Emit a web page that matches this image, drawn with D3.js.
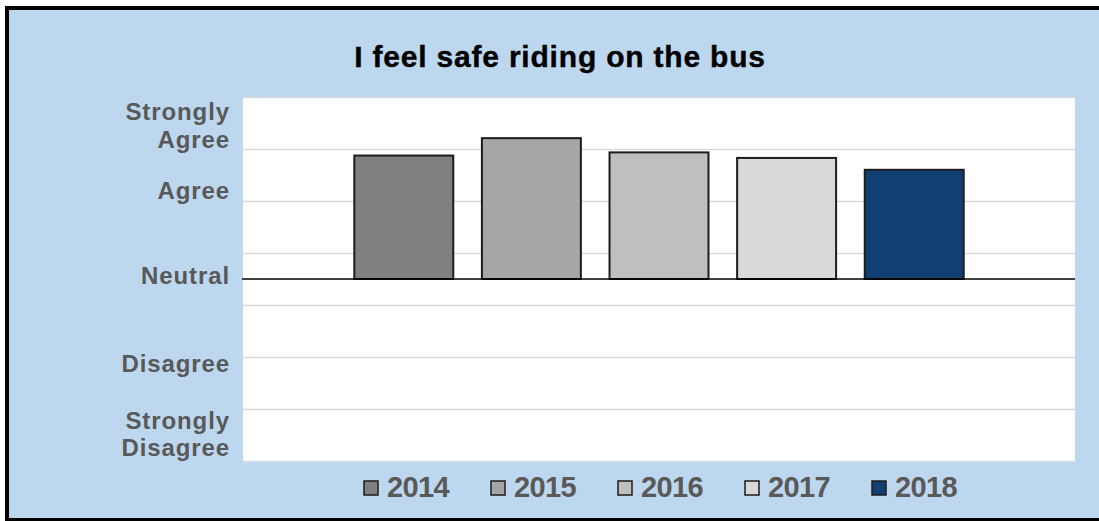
<!DOCTYPE html>
<html>
<head>
<meta charset="utf-8">
<script src="https://cdn.jsdelivr.net/npm/d3@7"></script>
<style>
  html, body { margin: 0; padding: 0; background: #ffffff; overflow: hidden; }
  svg { display: block; }
  text { font-family: "Liberation Sans", Arial, sans-serif; font-weight: bold; }
</style>
</head>
<body>
<svg id="chart" width="1099" height="521"></svg>
<script>
// Survey item: mean response per year on a Likert scale (Neutral = 0, Strongly Agree = +2)
const chartTitle = "I feel safe riding on the bus";
const years = ["2014", "2015", "2016", "2017", "2018"];
const meanScores = [1.56, 1.78, 1.60, 1.53, 1.38];
const yearColors = ["#808080", "#a6a6a6", "#bfbfbf", "#d9d9d9", "#123f72"];

// Response-scale labels along the left side (each entry is a list of lines)
const scaleLabels = [["Strongly", "Agree"], ["Agree"], ["Neutral"], ["Disagree"], ["Strongly", "Disagree"]];
const scaleLabelAnchors = [1.94, 1.12, 0.04, -1.07, -1.96];

const W = 1099, H = 521;
const plot = { left: 243, right: 1075, top: 97, bottom: 461 };
const yMin = -2.3, yMax = 2.3, gridCount = 8;

const svg = d3.select("#chart");

// Frame: pale blue panel; black border on top, left and bottom only
svg.append("rect")
  .attr("x", 7).attr("y", 8)
  .attr("width", W - 7).attr("height", 512)
  .attr("fill", "#bdd7ee");
const frame = svg.append("g").attr("stroke", "#000").attr("stroke-width", 4).attr("fill", "none");
frame.append("path").attr("d", `M${W},8 H7 V520 H${W}`);

// Title
svg.append("text")
  .attr("x", 560).attr("y", 67)
  .attr("text-anchor", "middle")
  .attr("font-size", 30)
  .attr("letter-spacing", 0.8)
  .attr("fill", "#000")
  .attr("stroke", "#000").attr("stroke-width", 0.4)
  .text(chartTitle);

// Scales
const y = d3.scaleLinear().domain([yMin, yMax]).range([plot.bottom, plot.top]);
const x0 = d3.scaleBand().domain(["all"]).range([plot.left, plot.right]).paddingOuter(0.152);
const x1 = d3.scaleBand().domain(years).range([0, x0.bandwidth()])
  .paddingInner(0.2245).paddingOuter(0.11225);

// Plot area
svg.append("rect")
  .attr("x", plot.left).attr("y", plot.top)
  .attr("width", plot.right - plot.left).attr("height", plot.bottom - plot.top)
  .attr("fill", "#ffffff");

// Horizontal gridlines
const gridValues = d3.range(gridCount).map(i => yMin + i * (yMax - yMin) / (gridCount - 1));
const yGrid = d3.axisLeft(y)
  .tickValues(gridValues)
  .tickSize(-(plot.right - plot.left))
  .tickFormat("");
svg.append("g")
  .attr("transform", `translate(${plot.left},0)`)
  .call(yGrid)
  .call(g => g.select(".domain").remove())
  .call(g => g.selectAll(".tick line").attr("stroke", "#d9d9d9").attr("stroke-width", 1.4));

// Bars
const barGroup = svg.append("g").attr("transform", `translate(${x0("all")},0)`);
barGroup.selectAll("rect")
  .data(years.map((yr, i) => ({ year: yr, value: meanScores[i], color: yearColors[i] })))
  .join("rect")
  .attr("x", d => x1(d.year))
  .attr("width", x1.bandwidth())
  .attr("y", d => y(Math.max(0, d.value)))
  .attr("height", d => Math.abs(y(d.value) - y(0)))
  .attr("fill", d => d.color)
  .attr("stroke", "#1c1c1c")
  .attr("stroke-width", 2);

// Neutral baseline
svg.append("line")
  .attr("x1", plot.left - 1).attr("x2", plot.right)
  .attr("y1", y(0)).attr("y2", y(0))
  .attr("stroke", "#000").attr("stroke-width", 1.5);

// Scale labels
const lineGap = 27.6;
const labelG = svg.append("g");
scaleLabels.forEach((lines, i) => {
  const cy = y(scaleLabelAnchors[i]);
  const firstBaseline = cy + 8.3 - (lines.length - 1) * lineGap / 2;
  const t = labelG.append("text")
    .attr("text-anchor", "end")
    .attr("font-size", 24)
    .attr("letter-spacing", 0.9)
    .attr("fill", "#595959");
  lines.forEach((ln, j) => {
    t.append("tspan")
      .attr("x", 230)
      .attr("y", firstBaseline + j * lineGap)
      .text(ln);
  });
});

// Legend
const legendCenter = 660, legendPitch = 127;
const legend = svg.append("g");
years.forEach((yr, i) => {
  const cx = legendCenter + (i - (years.length - 1) / 2) * legendPitch;
  legend.append("rect")
    .attr("x", cx - 42).attr("y", 481)
    .attr("width", 14).attr("height", 14)
    .attr("fill", yearColors[i])
    .attr("stroke", "#1c1c1c").attr("stroke-width", 1.5);
  legend.append("text")
    .attr("x", cx - 19).attr("y", 497)
    .attr("font-size", 29)
    .attr("letter-spacing", -0.6)
    .attr("fill", "#595959")
    .text(yr);
});
</script>
</body>
</html>
